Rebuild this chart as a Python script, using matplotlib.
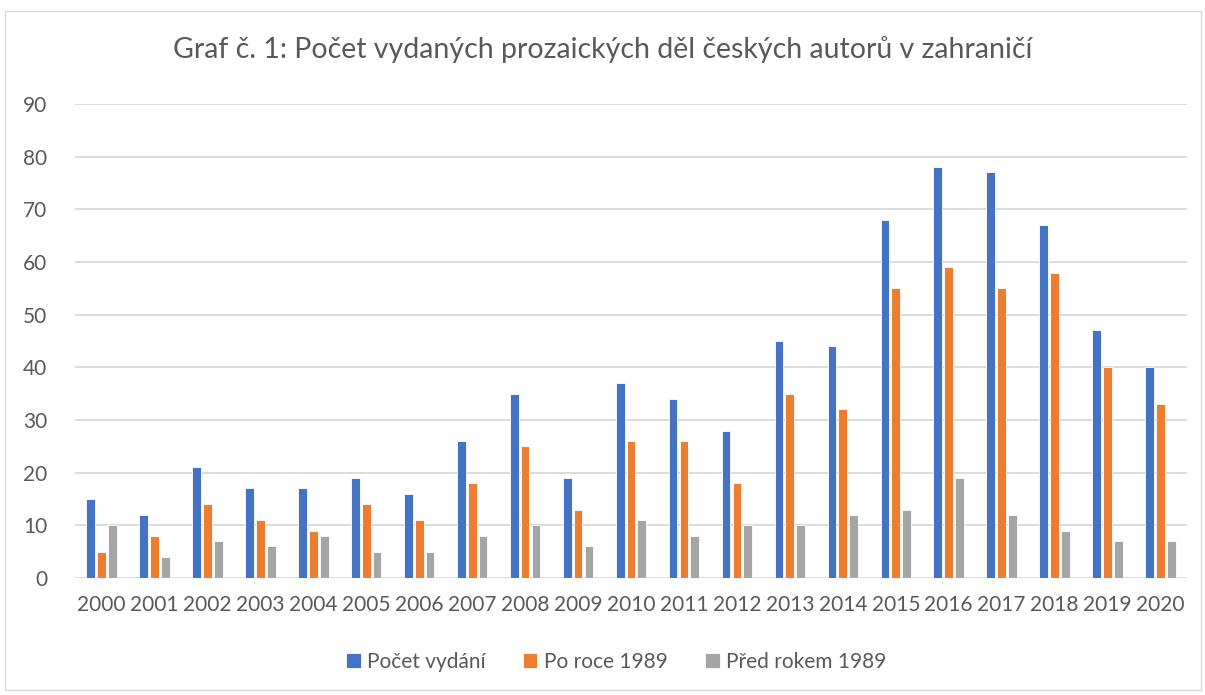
import matplotlib
matplotlib.use("Agg")
import matplotlib.pyplot as plt
import numpy as np
from matplotlib.patches import Rectangle

years = [str(y) for y in range(2000, 2021)]
pocet_vydani = [15, 12, 21, 17, 17, 19, 16, 26, 35, 19, 37, 34, 28, 45, 44, 68, 78, 77, 67, 47, 40]
po_roce_1989 = [5, 8, 14, 11, 9, 14, 11, 18, 25, 13, 26, 26, 18, 35, 32, 55, 59, 55, 58, 40, 33]
pred_rokem_1989 = [10, 4, 7, 6, 8, 5, 5, 8, 10, 6, 11, 8, 10, 10, 12, 13, 19, 12, 9, 7, 7]
series_names = ["Počet vydání", "Po roce 1989", "Před rokem 1989"]
colors = ["#4472C4", "#ED7D31", "#A5A5A5"]

plt.rcParams['font.family'] = ['Lato', 'DejaVu Sans']
W, H = 1205, 695
fig = plt.figure(figsize=(W / 100, H / 100), dpi=100)
fig.patch.set_facecolor("white")
fig.patches.append(Rectangle((5 / W, 1 - 690 / H), 1196 / W, 679 / H, transform=fig.transFigure,
                             fill=False, edgecolor="#D9D9D9", linewidth=1.0))

ax = fig.add_axes([75 / W, 1 - 578 / H, (1187 - 75) / W, (578 - 104) / H])
x = np.arange(len(years))
step = 0.205
width = 0.165
for i, (vals, name, c) in enumerate(zip([pocet_vydani, po_roce_1989, pred_rokem_1989], series_names, colors)):
    ax.bar(x + (i - 1) * step, vals, width=width, color=c, label=name,
           edgecolor="white", linewidth=0.6, zorder=3)

ax.set_xlim(-0.5, len(years) - 0.5)
ax.set_ylim(0, 90)
ax.set_yticks(range(0, 91, 10))
ax.set_xticks(x)
ax.set_xticklabels(years)
ax.yaxis.grid(True, color="#D9D9D9", linewidth=1.3, zorder=0)
ax.set_axisbelow(True)
for s in ax.spines.values():
    s.set_visible(False)
ax.tick_params(axis="both", length=0, labelsize=15, colors="#595959")
ax.tick_params(axis="y", pad=20)
ax.tick_params(axis="x", pad=12)

fig.text(0.5, 1 - 50 / H, "Graf č. 1: Počet vydaných prozaických děl českých autorů v zahraničí",
         ha="center", va="center", fontsize=20.5, color="#595959")

leg = fig.legend(loc="center", bbox_to_anchor=(616 / W, 1 - 662 / H), ncol=3, frameon=False,
                 fontsize=15, handlelength=0.7, handleheight=0.7, handletextpad=0.3,
                 columnspacing=1.8)
for t in leg.get_texts():
    t.set_color("#595959")

fig.savefig("out.png", dpi=100)
